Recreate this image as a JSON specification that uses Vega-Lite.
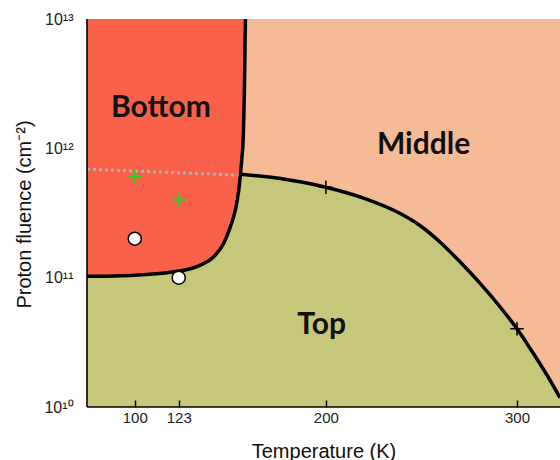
{
  "$schema": "https://vega.github.io/schema/vega-lite/v6.json",
  "autosize": {"type": "none"},
  "padding": {"left": 87, "top": 19, "right": 0, "bottom": 53},
  "width": 473,
  "height": 388,
  "background": "white",
  "config": {"view": {"stroke": null, "fill": "#F5BA96"}, "axis": {"grid": false}},
  "datasets": {
    "bound": [
      {"curve": "A", "T": 75, "F": 1.025e11},
      {"curve": "A", "T": 100, "F": 1.045e11},
      {"curve": "A", "T": 125.6, "F": 1.14e11},
      {"curve": "A", "T": 134.3, "F": 1.25e11},
      {"curve": "A", "T": 141.3, "F": 1.45e11},
      {"curve": "A", "T": 146.5, "F": 1.84e11},
      {"curve": "A", "T": 150, "F": 2.47e11},
      {"curve": "A", "T": 152.6, "F": 3.32e11},
      {"curve": "A", "T": 154.4, "F": 4.74e11},
      {"curve": "A", "T": 155.3, "F": 6.3e11},
      {"curve": "A", "T": 156.1, "F": 8.6e11},
      {"curve": "A", "T": 156.7, "F": 1.16e12},
      {"curve": "A", "T": 157.35, "F": 2.8e12},
      {"curve": "A", "T": 157.9, "F": 1e13},
      {"curve": "B", "T": 155.3, "F": 6.3e11},
      {"curve": "B", "T": 176.2, "F": 5.84e11},
      {"curve": "B", "T": 200, "F": 5e11},
      {"curve": "B", "T": 219.7, "F": 4.12e11},
      {"curve": "B", "T": 238.9, "F": 3.13e11},
      {"curve": "B", "T": 249.4, "F": 2.52e11},
      {"curve": "B", "T": 259.8, "F": 1.88e11},
      {"curve": "B", "T": 270.3, "F": 1.32e11},
      {"curve": "B", "T": 280.7, "F": 9.02e10},
      {"curve": "B", "T": 291.2, "F": 5.93e10},
      {"curve": "B", "T": 300, "F": 4.03e10},
      {"curve": "B", "T": 308.6, "F": 2.59e10},
      {"curve": "B", "T": 317.3, "F": 1.61e10},
      {"curve": "B", "T": 322.5, "F": 1.18e10}
    ],
    "dotted": [
      {"T": 75, "F": 6.9e11},
      {"T": 155.3, "F": 6.2e11}
    ],
    "majors": [{"F": 1e10}, {"F": 1e11}, {"F": 1e12}, {"F": 1e13}],
    "minors": [
      {"F": 2e10}, {"F": 3e10}, {"F": 4e10}, {"F": 5e10}, {"F": 6e10}, {"F": 7e10}, {"F": 8e10}, {"F": 9e10},
      {"F": 2e11}, {"F": 3e11}, {"F": 4e11}, {"F": 5e11}, {"F": 6e11}, {"F": 7e11}, {"F": 8e11}, {"F": 9e11},
      {"F": 2e12}, {"F": 3e12}, {"F": 4e12}, {"F": 5e12}, {"F": 6e12}, {"F": 7e12}, {"F": 8e12}, {"F": 9e12}
    ],
    "frame": [{"T0": 75, "T1": 322.5, "F0": 1e10, "F1": 1e13}],
    "markers": [
      {"kind": "green", "T": 100, "F": 6e11},
      {"kind": "green", "T": 123, "F": 4e11},
      {"kind": "black", "T": 200, "F": 5e11},
      {"kind": "black", "T": 300, "F": 4.03e10},
      {"kind": "circle", "T": 100, "F": 2e11},
      {"kind": "circle", "T": 123, "F": 1e11}
    ],
    "labels": [
      {"text": "Bottom", "T": 113.7, "F": 1.75e12},
      {"text": "Middle", "T": 251.1, "F": 8.99e11},
      {"text": "Top", "T": 197.8, "F": 3.65e10}
    ]
  },
  "encoding": {
    "x": {
      "field": "T", "type": "quantitative",
      "scale": {"domain": [75, 322.5], "nice": false, "zero": false},
      "axis": {
        "zindex": 2,
        "title": "Temperature (K)",
        "values": [100, 123, 200, 300],
        "ticks": true,
        "domain": false,
        "tickSize": -7,
        "tickWidth": 1.5,
        "tickColor": "#000000",
        "labelFont": "Liberation Sans",
        "labelFontSize": 15,
        "labelColor": "#222",
        "labelPadding": 10,
        "labelFlush": false,
        "titleFont": "Liberation Sans",
        "titleFontSize": 20,
        "titleFontWeight": "normal",
        "titleColor": "#111",
        "titleY": 50,
        "titleBaseline": "alphabetic"
      }
    },
    "y": {
      "field": "F", "type": "quantitative",
      "scale": {"type": "log", "domain": [1e10, 1e13], "nice": false},
      "axis": {
        "zindex": 2,
        "title": "Proton fluence (cm⁻²)",
        "values": [1e10, 1e11, 1e12, 1e13],
        "labelExpr": "datum.value == 1e10 ? '10¹⁰' : datum.value == 1e11 ? '10¹¹' : datum.value == 1e12 ? '10¹²' : '10¹³'",
        "ticks": false,
        "domain": false,
        "labelFont": "Liberation Sans",
        "labelFontSize": 16,
        "labelColor": "#222",
        "labelPadding": 14,
        "labelFlush": false,
        "labelOverlap": false,
        "titleFont": "Liberation Sans",
        "titleFontSize": 20,
        "titleFontWeight": "normal",
        "titleColor": "#111",
        "titleX": -57,
        "titleY": 195,
        "titleAngle": -90,
        "titleAlign": "center",
        "titleBaseline": "alphabetic"
      }
    }
  },
  "layer": [
    {
      "data": {"name": "bound"},
      "transform": [{"filter": "datum.curve == 'A' && datum.T <= 155.3"}],
      "mark": {"type": "area", "interpolate": "monotone", "color": "#C6C77B", "stroke": "#C6C77B", "strokeWidth": 1, "clip": true},
      "encoding": {"y2": {"datum": 1e10}}
    },
    {
      "data": {"name": "bound"},
      "transform": [{"filter": "datum.curve == 'B'"}],
      "mark": {"type": "area", "interpolate": "monotone", "color": "#C6C77B", "stroke": "#C6C77B", "strokeWidth": 1, "clip": true},
      "encoding": {"y2": {"datum": 1e10}}
    },
    {
      "data": {"name": "bound"},
      "transform": [{"filter": "datum.curve == 'A'"}],
      "mark": {"type": "area", "interpolate": "monotone", "color": "#F9614B", "clip": true},
      "encoding": {"y2": {"datum": 1e13}}
    },
    {
      "data": {"name": "dotted"},
      "mark": {"type": "line", "color": "#A9B2BA", "strokeWidth": 3, "strokeDash": [3, 3], "clip": true},
      "encoding": {}
    },
    {
      "data": {"name": "bound"},
      "mark": {"type": "line", "interpolate": "monotone", "color": "black", "strokeWidth": 3.5, "clip": true},
      "encoding": {"detail": {"field": "curve"}}
    },
    {
      "data": {"name": "frame"},
      "mark": {"type": "rule", "color": "black", "strokeWidth": 1.6},
      "encoding": {"x": {"field": "T0", "type": "quantitative"}, "y": {"field": "F0", "type": "quantitative"}, "y2": {"field": "F1"}}
    },
    {
      "data": {"name": "frame"},
      "mark": {"type": "rule", "color": "black", "strokeWidth": 1.6},
      "encoding": {"x": {"field": "T0", "type": "quantitative"}, "x2": {"field": "T1"}, "y": {"field": "F0", "type": "quantitative"}}
    },
    {
      "data": {"name": "majors"},
      "mark": {"type": "rule", "color": "black", "strokeWidth": 1.3},
      "encoding": {"x": {"datum": 70.3}, "x2": {"datum": 75}}
    },
    {
      "data": {"name": "minors"},
      "mark": {"type": "rule", "color": "black", "strokeWidth": 1.2},
      "encoding": {"x": {"datum": 72.4}, "x2": {"datum": 75}}
    },
    {
      "data": {"name": "markers"},
      "transform": [{"filter": "datum.kind == 'green'"}],
      "mark": {"type": "point", "shape": "M-1,0L1,0M0,-1L0,1", "filled": false, "stroke": "#22D822", "strokeWidth": 2, "size": 200, "opacity": 1},
      "encoding": {}
    },
    {
      "data": {"name": "markers"},
      "transform": [{"filter": "datum.kind == 'black'"}],
      "mark": {"type": "point", "shape": "M-1,0L1,0M0,-1L0,1", "filled": false, "stroke": "black", "strokeWidth": 1.5, "size": 180, "opacity": 1},
      "encoding": {}
    },
    {
      "data": {"name": "markers"},
      "transform": [{"filter": "datum.kind == 'circle'"}],
      "mark": {"type": "point", "shape": "circle", "filled": true, "fill": "white", "stroke": "black", "strokeWidth": 1.5, "size": 170, "opacity": 1},
      "encoding": {}
    },
    {
      "data": {"name": "labels"},
      "mark": {"type": "text", "font": "Lato", "fontWeight": "bold", "fontSize": 30, "color": "#111", "align": "center", "baseline": "alphabetic"},
      "encoding": {"text": {"field": "text"}}
    }
  ]
}
